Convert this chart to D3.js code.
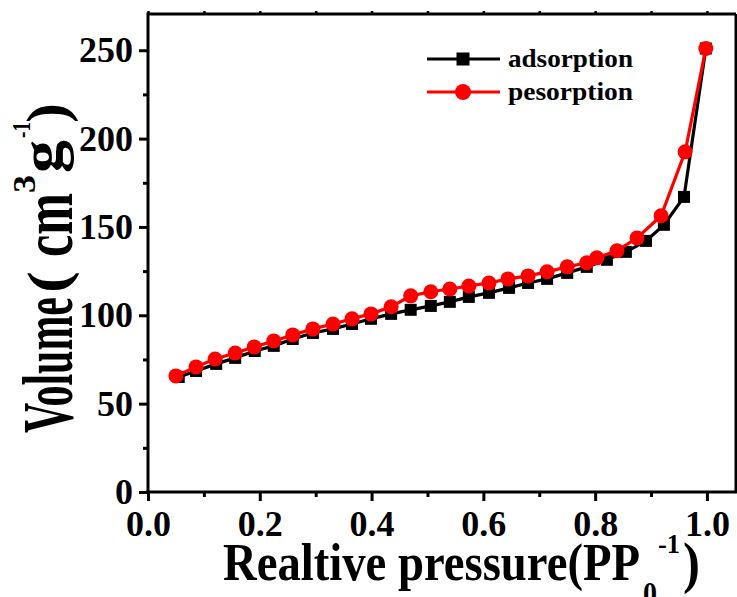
<!DOCTYPE html>
<html><head><meta charset="utf-8">
<script src="https://cdn.jsdelivr.net/npm/d3@7"></script>
<style>
body{margin:0;background:#fff}
svg text{font-family:"Liberation Serif","Times New Roman",serif;font-weight:bold;fill:#000}
</style>
</head><body>
<svg id="c" width="737" height="597"></svg>
<script>
// ---- data ----
const adsX = [0.055,0.086,0.122,0.156,0.191,0.225,0.259,0.295,0.331,0.365,0.399,0.435,0.470,0.506,0.540,0.574,0.610,0.646,0.680,0.714,0.750,0.785,0.821,0.855,0.891,0.923,0.959,0.998];
const adsY = [65.1,68.5,72.5,75.9,79.8,82.7,86.6,90.0,92.3,95.1,98.0,100.8,103.1,105.3,107.6,110.4,112.7,115.5,118.3,120.6,124.0,127.4,131.4,135.9,142.1,151.2,167.0,251];
const desX = [0.050,0.086,0.120,0.156,0.190,0.225,0.259,0.295,0.331,0.365,0.399,0.435,0.470,0.506,0.540,0.574,0.610,0.644,0.680,0.714,0.750,0.785,0.803,0.839,0.875,0.918,0.961,0.998];
const desY = [65.7,70.8,75.3,78.7,82.1,85.5,88.9,92.3,95.1,98.0,100.8,104.8,111.0,113.3,114.9,116.6,118.3,120.6,122.3,124.6,127.4,129.7,132.5,136.5,143.8,156.3,192.5,251];
const seriesNames = ["adsorption","pesorption"];
const xTicks = [0,0.2,0.4,0.6,0.8,1.0];
const xMinor = [0.1,0.3,0.5,0.7,0.9];
const yTicks = [0,50,100,150,200,250];
const yMinor = [25,75,125,175,225];

const svg = d3.select("#c");
const L=148,R=736,T=14,B=492;
const x = d3.scaleLinear().domain([0,1.052]).range([L,R]);
const y = d3.scaleLinear().domain([0,270.5]).range([B,T]);

// frame top/right
svg.append("line").attr("x1",L).attr("x2",R).attr("y1",T).attr("y2",T).attr("stroke","#000").attr("stroke-width",3);
svg.append("line").attr("x1",R).attr("x2",R).attr("y1",T).attr("y2",B).attr("stroke","#000").attr("stroke-width",3);
// top mirrored ticks
svg.append("g").attr("transform",`translate(0,${T})`)
  .call(d3.axisTop(x).tickValues(xTicks.concat(xMinor)).tickSize(3).tickFormat(""))
  .call(g=>{g.select(".domain").remove();g.selectAll("line").attr("stroke-width",2.5);});

// minor axes
svg.append("g").attr("transform",`translate(0,${B})`)
  .call(d3.axisBottom(x).tickValues(xMinor).tickSize(5).tickFormat(""))
  .call(g=>{g.select(".domain").remove();g.selectAll("line").attr("stroke-width",3);});
svg.append("g").attr("transform",`translate(${L},0)`)
  .call(d3.axisLeft(y).tickValues(yMinor).tickSize(5).tickFormat(""))
  .call(g=>{g.select(".domain").remove();g.selectAll("line").attr("stroke-width",3);});

// major axes
const gx = svg.append("g").attr("transform",`translate(0,${B})`)
  .call(d3.axisBottom(x).tickValues(xTicks).tickSize(9).tickSizeOuter(0).tickPadding(9).tickFormat(d3.format(".1f")));
gx.select(".domain").attr("stroke-width",3).attr("d",`M${L-1.5},0H${R+1.5}`);
gx.selectAll("line").attr("stroke-width",3);
gx.selectAll("text").attr("font-size",36).style("font-family",null).attr("font-family",null);

const gy = svg.append("g").attr("transform",`translate(${L},0)`)
  .call(d3.axisLeft(y).tickValues(yTicks).tickSize(9).tickSizeOuter(0).tickPadding(6).tickFormat(d3.format("d")));
gy.select(".domain").attr("stroke-width",3).attr("d",`M0,${B+1.5}V${T-1.5}`);
gy.selectAll("line").attr("stroke-width",3);
gy.selectAll("text").attr("font-size",36).attr("font-family",null);
svg.selectAll(".tick text").attr("font-family",null).style("font-family",'"Liberation Serif",serif').style("font-weight","bold");
svg.selectAll("g[font-family]").attr("font-family",null);

// series
const ads = adsX.map((v,i)=>[v,adsY[i]]);
const des = desX.map((v,i)=>[v,desY[i]]);
const line = d3.line().x(d=>x(d[0])).y(d=>y(d[1]));
svg.append("path").datum(ads).attr("d",line).attr("fill","none").attr("stroke","#000").attr("stroke-width",3.2);
svg.selectAll(".sq").data(ads).enter().append("rect")
  .attr("x",d=>x(d[0])-6).attr("y",d=>y(d[1])-6).attr("width",12).attr("height",12).attr("fill","#000");
svg.append("path").datum(des).attr("d",line).attr("fill","none").attr("stroke","#ff0000").attr("stroke-width",3.2);
svg.selectAll(".ci").data(des).enter().append("circle")
  .attr("cx",d=>x(d[0])).attr("cy",d=>y(d[1])).attr("r",7.5).attr("fill","#ff0000");

// legend
const lg = svg.append("g");
const rows=[{y:59,c:"#000",shape:"sq",name:seriesNames[0],by:67},{y:92,c:"#ff0000",shape:"ci",name:seriesNames[1],by:100}];
rows.forEach(r=>{
  lg.append("line").attr("x1",427).attr("x2",500).attr("y1",r.y).attr("y2",r.y).attr("stroke",r.c).attr("stroke-width",3);
  if(r.shape==="sq") lg.append("rect").attr("x",463-6.5).attr("y",r.y-6.5).attr("width",13).attr("height",13).attr("fill",r.c);
  else lg.append("circle").attr("cx",463).attr("cy",r.y).attr("r",8).attr("fill",r.c);
  lg.append("text").attr("x",508).attr("y",r.by).attr("font-size",25).attr("textLength",125).attr("lengthAdjust","spacingAndGlyphs").text(r.name);
});

// axis titles
function piece(g,p){
  g.append("text").attr("x",p.x).attr("y",p.y).attr("font-size",p.fs)
   .attr("textLength",p.len).attr("lengthAdjust","spacingAndGlyphs").text(p.t);
}
const xt = svg.append("g");
[{t:"Realtive pressure(PP",x:223,y:580,fs:53,len:417},
 {t:"0",x:643,y:604,fs:32,len:14},
 {t:"-1",x:658,y:553,fs:28,len:22},
 {t:")",x:683,y:582,fs:56,len:17}].forEach(p=>piece(xt,p));

const yt = svg.append("g").attr("transform","translate(72,433) rotate(-90)");
[{t:"Volume",x:0,y:0,fs:72,len:136},
 {t:"(",x:140,y:-5,fs:56,len:22},
 {t:"cm",x:176,y:0,fs:72,len:64},
 {t:"3",x:240,y:-37,fs:32,len:18},
 {t:"g",x:260,y:-11,fs:60,len:33},
 {t:"-1",x:295,y:-42,fs:26,len:16},
 {t:")",x:310,y:-6,fs:56,len:20}].forEach(p=>piece(yt,p));
</script>
</body></html>
